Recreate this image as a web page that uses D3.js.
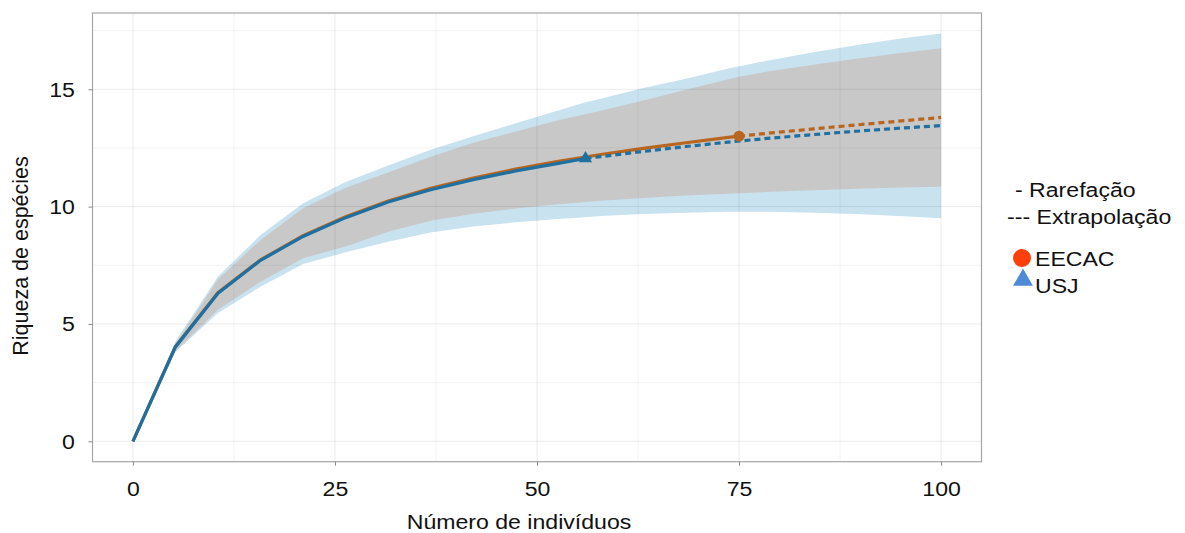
<!DOCTYPE html>
<html><head><meta charset="utf-8">
<script src="https://cdn.jsdelivr.net/npm/d3@7"></script>
<style>body{margin:0;background:#fff}svg{display:block}text{font-family:"Liberation Sans",Arial,sans-serif;fill:#111}</style>
</head><body><svg id="c" width="1185" height="533"></svg>
<script>
// EECAC (n = 75)
const eecacX = [0,5.26,10.53,15.79,21.05,26.32,31.58,36.84,42.11,47.37,52.63,57.89,63.16,68.42,73.68,75,78.95,84.21,89.47,94.74,100];
const eecacMean = [0,4.03,6.33,7.73,8.76,9.57,10.24,10.78,11.22,11.6,11.93,12.22,12.48,12.72,12.95,13.0,13.14,13.31,13.48,13.64,13.8];
const eecacLower = [0,3.85,5.6,6.8,7.8,8.3,8.93,9.4,9.7,9.92,10.1,10.25,10.37,10.47,10.55,10.57,10.63,10.7,10.76,10.81,10.85];
const eecacUpper = [0,4.15,6.9,8.58,9.93,10.8,11.45,12.12,12.72,13.2,13.68,14.08,14.52,14.98,15.43,15.53,15.78,16.05,16.3,16.53,16.75];
const eecacObs = 75;
// USJ (n = 56)
const usjX = [0,5.26,10.53,15.79,21.05,26.32,31.58,36.84,42.11,47.37,52.63,56,57.89,63.16,68.42,73.68,78.95,84.21,89.47,94.74,100];
const usjMean = [0,4.02,6.31,7.71,8.73,9.53,10.2,10.72,11.15,11.52,11.84,12.05,12.13,12.35,12.56,12.75,12.92,13.07,13.21,13.34,13.45];
const usjLower = [0,3.8,5.47,6.59,7.55,8.05,8.5,8.9,9.15,9.33,9.47,9.55,9.6,9.68,9.74,9.78,9.78,9.74,9.68,9.6,9.5];
const usjUpper = [0,4.25,7.02,8.79,10.14,11.05,11.75,12.42,13.0,13.55,14.1,14.45,14.6,15.05,15.45,15.88,16.25,16.58,16.88,17.15,17.38];
const usjObs = 56;

const xTicks = [0,25,50,75,100];
const yTicks = [0,5,10,15];
const xMinor = [12.5,37.5,62.5,87.5];
const yMinor = [2.5,7.5,12.5,17.5];
const legendMethods = ["- Rarefação","--- Extrapolação"];
const legendSites = ["EECAC","USJ"];

const svg = d3.select("#c");
const L=92.5, R=981.5, T=13, B=461.7;
const x = d3.scaleLinear().domain([-5,105]).range([L,R]);
const y = d3.scaleLinear().domain([-0.87,18.25]).range([B,T]);
const FS = 21, SX = 1.1;

const colO = "#b8661f", colB = "#1f6fa0";
function rows(xs, m, lo, up){ return xs.map((v,i)=>({x:v,m:m[i],lo:lo[i],up:up[i]})); }
const eecac = rows(eecacX,eecacMean,eecacLower,eecacUpper);
const usj = rows(usjX,usjMean,usjLower,usjUpper);

const area = d3.area().x(d=>x(d.x)).y0(d=>y(d.lo)).y1(d=>y(d.up));
svg.append("path").datum(usj).attr("d",area).attr("fill","#c9e2f0");
svg.append("path").datum(eecac).attr("d",area).attr("fill","#c8c8c8");

// grid
const g = svg.append("g");
xMinor.forEach(v=>g.append("line").attr("x1",x(v)).attr("x2",x(v)).attr("y1",T).attr("y2",B).attr("stroke","rgba(0,0,0,0.05)"));
yMinor.forEach(v=>g.append("line").attr("y1",y(v)).attr("y2",y(v)).attr("x1",L).attr("x2",R).attr("stroke","rgba(0,0,0,0.05)"));
xTicks.forEach(v=>g.append("line").attr("x1",x(v)).attr("x2",x(v)).attr("y1",T).attr("y2",B).attr("stroke","rgba(0,0,0,0.08)"));
yTicks.forEach(v=>g.append("line").attr("y1",y(v)).attr("y2",y(v)).attr("x1",L).attr("x2",R).attr("stroke","rgba(0,0,0,0.08)"));

const line = d3.line().x(d=>x(d.x)).y(d=>y(d.m));
function drawSeries(data, obs, col){
  svg.append("path").datum(data.filter(d=>d.x<=obs)).attr("d",line).attr("fill","none").attr("stroke",col).attr("stroke-width",3.2);
  svg.append("path").datum(data.filter(d=>d.x>=obs)).attr("d",line).attr("fill","none").attr("stroke",col).attr("stroke-width",3.2).attr("stroke-dasharray","6,4");
}
drawSeries(eecac, eecacObs, colO);
drawSeries(usj, usjObs, colB);
const eo = eecac.find(d=>d.x===eecacObs), uo = usj.find(d=>d.x===usjObs);
svg.append("circle").attr("cx",x(eo.x)).attr("cy",y(eo.m)).attr("r",5.5).attr("fill",colO);
svg.append("path").attr("d",d3.symbol(d3.symbolTriangle,75)()).attr("transform",`translate(${x(uo.x)},${y(uo.m)})`).attr("fill",colB);

// panel border
svg.append("rect").attr("x",L).attr("y",T).attr("width",R-L).attr("height",B-T).attr("fill","none").attr("stroke","#a6a6a6").attr("stroke-width",1.2);

// axes
const xa = svg.append("g").attr("transform",`translate(0,${B})`).call(d3.axisBottom(x).tickValues(xTicks).tickSize(4).tickPadding(15));
const ya = svg.append("g").attr("transform",`translate(${L},0)`).call(d3.axisLeft(y).tickValues(yTicks).tickSize(4).tickPadding(12));
[xa,ya].forEach(a=>{a.select(".domain").remove(); a.selectAll(".tick line").attr("stroke","#888");
  a.selectAll("text").attr("font-size",FS).attr("fill","#111").style("font-family","Liberation Sans, Arial, sans-serif").attr("transform",`scale(${SX},1)`);});

function label(px, py, str, anchor){
  return svg.append("text").attr("transform",`translate(${px},${py}) scale(${SX},1)`).attr("text-anchor",anchor||"start").attr("font-size",FS).text(str);
}
label(519,529,"Número de indivíduos","middle");
svg.append("text").attr("transform","translate(28,256) rotate(-90)").attr("text-anchor","middle").attr("font-size",21.5).text("Riqueza de espécies");

// legend
label(1015,197,legendMethods[0]);
label(1007,224,legendMethods[1]);
svg.append("circle").attr("cx",1022).attr("cy",258).attr("r",9).attr("fill","#ff3f0a");
label(1035,266,legendSites[0]);
svg.append("path").attr("d",d3.symbol(d3.symbolTriangle,170)()).attr("transform","translate(1023,280)").attr("fill","#4e8ad8");
label(1035,293,legendSites[1]);
</script></body></html>
